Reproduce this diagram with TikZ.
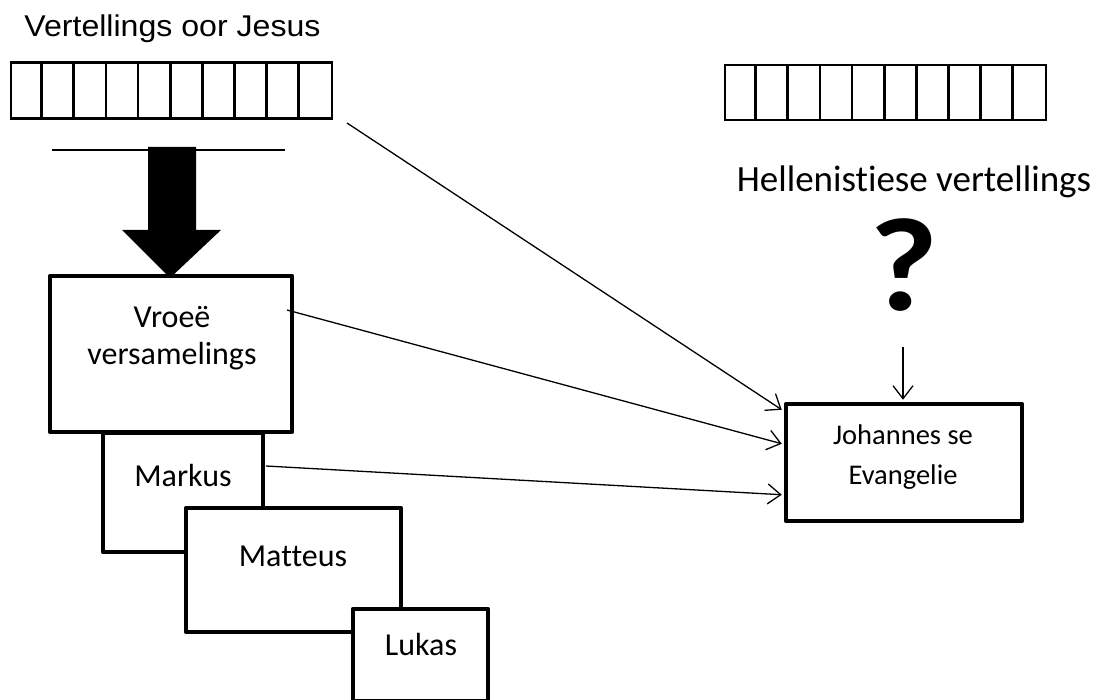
\documentclass[tikz,border=0pt]{standalone}
\usepackage{fontspec}
\setmainfont{Carlito}[Ligatures=NoCommon]
\newfontfamily\arialf{Liberation Sans}
\usetikzlibrary{arrows.meta,calc}
\tikzset{
  boxthick/.style={draw, line width=4.5pt, fill=white, inner sep=0pt, line join=round},
  gridline/.style={line width=2.8pt},
  conn/.style={line width=1.3pt, -{Straight Barb[length=13pt,width=20pt,line width=1.3pt]}},
  lbl/.style={inner sep=0pt, anchor=base, font=\fontsize{32}{38}\selectfont},
}
\begin{document}
\begin{tikzpicture}[x=1pt,y=-1pt]
\useasboundingbox (0,0) rectangle (1096,700);
% titles
\node[inner sep=0pt, anchor=base, font=\arialf\fontsize{30}{36}\selectfont] (t1) at (172.5,37) {\scalebox{1.07}[1]{Vertellings oor Jesus}};
\node[inner sep=0pt, anchor=base, font=\fontsize{37}{44}\selectfont] (t2) at (914,192) {Hellenistiese vertellings};
\node[inner sep=0pt, anchor=base, font=\bfseries\fontsize{133}{150}\selectfont] (q) at (904,311) {\scalebox{1.12}[1]{?}};
% grids
\node[draw, gridline, minimum width=321pt, minimum height=56pt, inner sep=0pt] (g1) at (171.5,90.5) {};
\foreach \i in {1,...,9} \draw[gridline] ($(g1.north west)+(32.1*\i,0)$) -- ($(g1.south west)+(32.1*\i,0)$);
\node[draw, gridline, minimum width=321pt, minimum height=55pt, inner sep=0pt] (g2) at (885.5,92.5) {};
\foreach \i in {1,...,9} \draw[gridline] ($(g2.north west)+(32.1*\i,0)$) -- ($(g2.south west)+(32.1*\i,0)$);
% horizontal line and big arrow
\coordinate (hl1) at (52,150);
\coordinate (hl2) at (285,150);
\draw[line width=1.5pt] (hl1) -- (hl2);
\fill (148,147) -- (196,147) -- (196,230) -- (221,230) -- (170,278) -- (122,230) -- (148,230) -- cycle;
% boxes
\node[boxthick, minimum width=242pt, minimum height=156pt] (vr) at (171,354) {};
\node[boxthick, minimum width=160pt, minimum height=119pt] (ma) at (183,492.5) {};
\node[boxthick, minimum width=215pt, minimum height=124pt] (mt) at (293.5,570) {};
\node[boxthick, minimum width=135pt, minimum height=92pt] (lu) at (420.5,655) {};
\node[boxthick, minimum width=236pt, minimum height=117pt] (jo) at (904,462.5) {};
% labels
\node[lbl] (vrt1) at (172,328) {Vroeë};
\node[lbl] (vrt2) at (172,365) {versamelings};
\node[lbl] (mat) at (183,487) {Markus};
\node[lbl] (mtt) at (293,566) {Matteus};
\node[lbl] (lut) at (421,655) {Lukas};
\node[inner sep=0pt, anchor=base, font=\fontsize{28.5}{34}\selectfont] (jot1) at (903,445) {Johannes se};
\node[inner sep=0pt, anchor=base, font=\fontsize{28.5}{34}\selectfont] (jot2) at (903,485) {Evangelie};
% connectors
\coordinate (s1) at (347,123);
\coordinate (s2) at (287,310);
\coordinate (s3) at (266,466);
\coordinate (s4) at (903,347);
\draw[conn] (s1) -- ($(jo.north west)+(-2,8)$);
\draw[conn] (s2) -- ($(jo.north west)+(-2,42)$);
\draw[conn] (s3) -- ($(jo.north west)+(-2,93)$);
\draw[conn] (s4) -- ($(jo.north)+(-1,-2)$);
\end{tikzpicture}
\end{document}
